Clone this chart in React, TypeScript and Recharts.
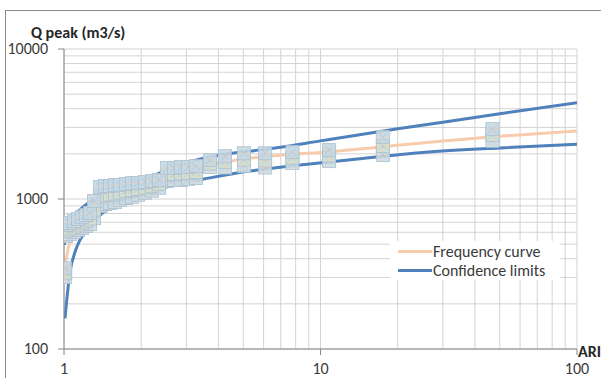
import React from 'react';
import { ComposedChart, Line, Scatter, XAxis, YAxis, CartesianGrid } from 'recharts';

// axis ticks (log scales, minor ticks only drive the grid)
const xTicks = [1, 2, 3, 4, 5, 6, 7, 8, 9, 10, 20, 30, 40, 50, 60, 70, 80, 90, 100];
const yTicks = [100, 200, 300, 400, 500, 600, 700, 800, 900, 1000, 2000, 3000, 4000, 5000, 6000, 7000, 8000, 9000, 10000];
const xMajor = [1, 10, 100];
const yMajor = [100, 1000, 10000];

// observed peaks (stacked markers at each plotting position)
const obsARI = [1.01, 1.018, 1.055, 1.094, 1.134, 1.175, 1.218, 1.263, 1.309, 1.382, 1.445, 1.511, 1.58, 1.653, 1.745, 1.841, 1.943, 2.069, 2.203, 2.346, 2.52, 2.685, 2.858, 3.044, 3.27, 3.71, 4.24, 5.03, 6.08, 7.77, 10.8, 17.5, 46.8];
const obsQHigh = [345, 671, 692, 713, 736, 759, 782, 807, 970, 1202, 1221, 1221, 1240, 1240, 1259, 1279, 1279, 1298, 1318, 1339, 1610, 1610, 1635, 1635, 1660, 1820, 1930, 2020, 2020, 2057, 2120, 2590, 2930];
const obsQMid = [323, 617, 636, 656, 676, 697, 719, 741, 851, 1039, 1063, 1071, 1088, 1105, 1131, 1149, 1168, 1195, 1224, 1262, 1457, 1468, 1480, 1491, 1514, 1725, 1769, 1831, 1810, 1890, 1948, 2256, 2674];
const obsQLow = [302, 567, 584, 603, 621, 641, 661, 681, 747, 898, 926, 940, 955, 985, 1016, 1033, 1067, 1101, 1137, 1189, 1318, 1339, 1339, 1360, 1380, 1635, 1622, 1660, 1622, 1737, 1790, 1965, 2440];

// fitted frequency curve
const freqARI = [1.003, 1.01, 1.036, 1.1, 1.2, 1.3, 1.5, 2, 2.5, 3, 4, 5, 7, 10, 20, 30, 50, 100];
const freqQ = [290, 340, 457, 610, 740, 830, 960, 1180, 1370, 1500, 1730, 1850, 1960, 2045, 2280, 2440, 2620, 2840];

// confidence limits
const upperARI = [1.003, 1.01, 1.02, 1.05, 1.1, 1.2, 1.3, 1.5, 1.81, 2, 2.5, 3, 4, 5, 7, 10, 20, 30, 50, 100];
const upperQ = [494, 560, 620, 700, 780, 900, 990, 1120, 1250, 1320, 1550, 1740, 1960, 2060, 2210, 2440, 2940, 3250, 3700, 4385];
const lowerARI = [1.009, 1.055, 1.104, 1.154, 1.263, 1.382, 1.653, 1.98, 2.59, 3.71, 5.3, 8.32, 13.1, 24.4, 50, 100];
const lowerQ = [160, 326, 443, 533, 671, 782, 940, 1063, 1220, 1383, 1535, 1685, 1825, 2036, 2190, 2316];

const toPoints = (xs: number[], ys: number[]) => xs.map((ari, i) => ({ ari, q: ys[i] }));

const freqData = toPoints(freqARI, freqQ);
const upperData = toPoints(upperARI, upperQ);
const lowerData = toPoints(lowerARI, lowerQ);
const obsHigh = toPoints(obsARI, obsQHigh);
const obsMid = toPoints(obsARI, obsQMid);
const obsLow = toPoints(obsARI, obsQLow);

const font = "Carlito, Calibri, Lato, sans-serif";
const axisGrey = '#868686';
const textColor = '#3a3a3a';

const XTick = (props: any) => {
  const { x, y, payload } = props;
  if (!xMajor.includes(payload.value)) return <g />;
  return (
    <g>
      <line x1={x} x2={x} y1={y} y2={y + 6} stroke={axisGrey} />
      <text x={x} y={y + 25} textAnchor="middle" fontSize={16} fontFamily={font} fill={textColor}>
        {payload.value}
      </text>
    </g>
  );
};

const YTick = (props: any) => {
  const { x, y, payload } = props;
  if (!yMajor.includes(payload.value)) return <g />;
  return (
    <g>
      <line x1={x - 6} x2={x} y1={y} y2={y} stroke={axisGrey} />
      <text x={x - 16} y={y + 5} textAnchor="end" fontSize={16} fontFamily={font} fill={textColor}>
        {payload.value}
      </text>
    </g>
  );
};

const Marker = (props: any) => {
  const { cx, cy, fill } = props;
  if (cx == null || cy == null) return <g />;
  return (
    <g opacity={0.9}>
      <rect x={cx - 6.5} y={cy - 6.5} width={13} height={13} fill={fill} stroke="#afc4d2" />
      <path d={`M${cx - 6.5},${cy}H${cx + 6.5}M${cx},${cy - 6.5}V${cy + 6.5}`} stroke="#e6cfc0" strokeWidth={1} />
      <path d={`M${cx - 4},${cy - 4}L${cx + 4},${cy + 4}M${cx + 4},${cy - 4}L${cx - 4},${cy + 4}`} stroke="#b0cadf" strokeWidth={1} />
    </g>
  );
};

const App: React.FC = () => {
  return (
    <div style={{ position: 'absolute', left: 0, top: 0, width: 601, height: 378, overflow: 'hidden', background: '#fff', fontFamily: font }}>
      <div style={{ position: 'absolute', left: 5, top: 10, width: 1, height: 368, background: '#8a8a8a' }} />
      <div style={{ position: 'absolute', left: 5, top: 10, width: 596, height: 1, background: '#8a8a8a' }} />
      <div style={{ position: 'absolute', left: 0, top: 0 }}>
        <ComposedChart width={601} height={378} margin={{ top: 49, right: 24, bottom: 0, left: 0 }}>
          <CartesianGrid stroke="#d3d3d3" />
          <XAxis
            type="number"
            dataKey="ari"
            scale="log"
            domain={[1, 100]}
            ticks={xTicks}
            interval={0}
            allowDataOverflow
            height={29}
            tickSize={0}
            tickMargin={0}
            tickLine={false}
            axisLine={{ stroke: axisGrey }}
            tick={<XTick />}
          />
          <YAxis
            type="number"
            dataKey="q"
            scale="log"
            domain={[100, 10000]}
            ticks={yTicks}
            interval={0}
            allowDataOverflow
            width={64}
            tickSize={0}
            tickMargin={0}
            tickLine={false}
            axisLine={{ stroke: axisGrey }}
            tick={<YTick />}
          />
          <Line data={freqData} dataKey="q" type="monotone" stroke="#f8cbad" strokeWidth={3} dot={false} activeDot={false} isAnimationActive={false} />
          <Line data={upperData} dataKey="q" type="monotone" stroke="#4f81bd" strokeWidth={3} dot={false} activeDot={false} isAnimationActive={false} />
          <Line data={lowerData} dataKey="q" type="monotone" stroke="#4f81bd" strokeWidth={3} dot={false} activeDot={false} isAnimationActive={false} />
          <Scatter data={obsLow} dataKey="q" fill="#cddce5" shape={<Marker />} isAnimationActive={false} />
          <Scatter data={obsMid} dataKey="q" fill="#d5e1cf" shape={<Marker />} isAnimationActive={false} />
          <Scatter data={obsHigh} dataKey="q" fill="#c4d9e7" shape={<Marker />} isAnimationActive={false} />
        </ComposedChart>
      </div>
      <div style={{ position: 'absolute', left: 31, top: 25, fontSize: 16, lineHeight: '16px', fontWeight: 'bold', color: '#262626', whiteSpace: 'nowrap' }}>
        Q peak (m3/s)
      </div>
      <div style={{ position: 'absolute', left: 578, top: 344, fontSize: 16, lineHeight: '16px', fontWeight: 'bold', color: '#262626' }}>ARI</div>
      <div style={{ position: 'absolute', left: 390, top: 241, width: 170, height: 39, background: '#fff', fontSize: 16, color: textColor }}>
        <div style={{ position: 'absolute', left: 8, top: 9, width: 34, height: 3, background: '#f8cbad' }} />
        <div style={{ position: 'absolute', left: 43, top: 1, whiteSpace: 'nowrap', lineHeight: '19px' }}>Frequency curve</div>
        <div style={{ position: 'absolute', left: 8, top: 28, width: 34, height: 3, background: '#4f81bd' }} />
        <div style={{ position: 'absolute', left: 43, top: 20, whiteSpace: 'nowrap', lineHeight: '19px' }}>Confidence limits</div>
      </div>
    </div>
  );
};

export default App;
